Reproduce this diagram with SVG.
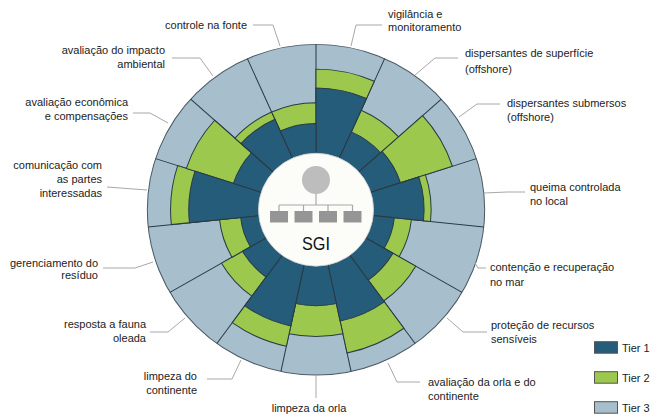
<svg xmlns="http://www.w3.org/2000/svg" width="657" height="414" viewBox="0 0 657 414">
<style>
.t1{fill:#245c7a}
.t2{fill:#9dc84e}
.t3{fill:#a7bfcd}
.w{stroke:#2b3a44;stroke-width:1}
.rad{stroke:#2b3a44;stroke-width:1}
.lbl{font-family:"Liberation Sans",Arial,sans-serif;font-size:11px;fill:#222}
.ld{fill:none;stroke:#a8a8a8;stroke-width:1}
.lg{stroke:#555;stroke-width:1}
</style>
<rect width="657" height="414" fill="#fff"/>
<g id="chart" transform="translate(316,209.7) scale(1.01,0.99)">
<circle r="167" class="t3" stroke="#4a5863" stroke-width="1"/>
<g class="rad">
<line x1="0" y1="0" x2="0" y2="-167"/>
<line x1="0" y1="0" x2="67.93" y2="-152.56"/>
<line x1="0" y1="0" x2="124.10" y2="-111.74"/>
<line x1="0" y1="0" x2="158.83" y2="-51.61"/>
<line x1="0" y1="0" x2="166.08" y2="17.46"/>
<line x1="0" y1="0" x2="144.63" y2="83.5"/>
<line x1="0" y1="0" x2="98.16" y2="135.11"/>
<line x1="0" y1="0" x2="34.72" y2="163.35"/>
<line x1="0" y1="0" x2="-34.72" y2="163.35"/>
<line x1="0" y1="0" x2="-98.16" y2="135.11"/>
<line x1="0" y1="0" x2="-144.63" y2="83.5"/>
<line x1="0" y1="0" x2="-166.08" y2="17.46"/>
<line x1="0" y1="0" x2="-158.83" y2="-51.61"/>
<line x1="0" y1="0" x2="-124.10" y2="-111.74"/>
<line x1="0" y1="0" x2="-67.93" y2="-152.56"/>
</g>
<g id="tier2" class="t2 w">
<path d="M0 0L0 -142A142 142 0 0 1 57.76 -129.72Z"/>
<path d="M0 0L44.74 -100.49A110 110 0 0 1 81.75 -73.60Z"/>
<path d="M0 0L105.53 -95.02A142 142 0 0 1 135.05 -43.88Z"/>
<path d="M0 0L108.42 -35.23A114 114 0 0 1 113.38 11.92Z"/>
<path d="M0 0L94.48 9.93A95 95 0 0 1 82.27 47.5Z"/>
<path d="M0 0L98.73 57A114 114 0 0 1 67.01 92.23Z"/>
<path d="M0 0L86.99 119.73A148 148 0 0 1 30.77 144.77Z"/>
<path d="M0 0L26.61 125.20A128 128 0 0 1 -26.61 125.20Z"/>
<path d="M0 0L-29.32 137.92A141 141 0 0 1 -82.88 114.07Z"/>
<path d="M0 0L-63.48 87.37A108 108 0 0 1 -93.53 54Z"/>
<path d="M0 0L-83.14 48A96 96 0 0 1 -95.47 10.03Z"/>
<path d="M0 0L-143.21 15.05A144 144 0 0 1 -136.95 -44.50Z"/>
<path d="M0 0L-128.39 -41.72A135 135 0 0 1 -100.32 -90.33Z"/>
<path d="M0 0L-80.26 -72.27A108 108 0 0 1 -43.93 -98.66Z"/>
<path d="M0 0L-43.93 -98.66A108 108 0 0 1 0 -108Z"/>
</g>
<g id="tier1" class="t1 w">
<path d="M0 0L0 -123A123 123 0 0 1 50.03 -112.37Z"/>
<path d="M0 0L34.98 -78.57A86 86 0 0 1 63.91 -57.55Z"/>
<path d="M0 0L65.40 -58.88A88 88 0 0 1 83.69 -27.19Z"/>
<path d="M0 0L101.76 -33.07A107 107 0 0 1 106.41 11.18Z"/>
<path d="M0 0L77.57 8.15A78 78 0 0 1 67.55 39Z"/>
<path d="M0 0L76.21 44A88 88 0 0 1 51.73 71.19Z"/>
<path d="M0 0L67.60 93.04A115 115 0 0 1 23.91 112.49Z"/>
<path d="M0 0L20.17 94.88A97 97 0 0 1 -20.17 94.88Z"/>
<path d="M0 0L-24.95 117.38A120 120 0 0 1 -70.53 97.08Z"/>
<path d="M0 0L-49.37 67.96A84 84 0 0 1 -72.75 42Z"/>
<path d="M0 0L-64.95 37.5A75 75 0 0 1 -74.59 7.84Z"/>
<path d="M0 0L-125.31 13.17A126 126 0 0 1 -119.83 -38.94Z"/>
<path d="M0 0L-81.79 -26.58A86 86 0 0 1 -63.91 -57.55Z"/>
<path d="M0 0L-74.31 -66.91A100 100 0 0 1 -40.67 -91.36Z"/>
<path d="M0 0L-35.39 -79.48A87 87 0 0 1 0 -87Z"/>
</g>
<circle r="57" fill="#fcfcf8" stroke="#d0d0d0" stroke-width="0.8"/>
</g>
<g id="sgi">
<circle cx="316" cy="180" r="14" fill="#bdbdbd"/>
<g fill="none" stroke="#a8a8a8" stroke-width="1.2">
<line x1="316" y1="194" x2="316" y2="205"/>
<line x1="279" y1="205" x2="352.5" y2="205"/>
<line x1="279" y1="205" x2="279" y2="211"/>
<line x1="303.5" y1="205" x2="303.5" y2="211"/>
<line x1="328" y1="205" x2="328" y2="211"/>
<line x1="352.5" y1="205" x2="352.5" y2="211"/>
</g>
<g fill="#959595">
<rect x="270" y="211" width="18" height="11.5"/>
<rect x="294.5" y="211" width="18" height="11.5"/>
<rect x="319" y="211" width="18" height="11.5"/>
<rect x="343.5" y="211" width="18" height="11.5"/>
</g>
<text x="316" y="249.5" text-anchor="middle" font-family="'Liberation Sans',Arial,sans-serif" font-size="19" fill="#111" textLength="28" lengthAdjust="spacingAndGlyphs">SGI</text>
</g>
<g id="connectors" class="ld">
<polyline points="253,25 273,25 280,46"/>
<polyline points="382,25 356,25 351,46"/>
<polyline points="458,58 435,58 415,75"/>
<polyline points="500,104 477,104 459,117"/>
<polyline points="525,192 507,192 484,193"/>
<polyline points="486,268 478,268 475,263"/>
<polyline points="487,332 463,332 447,318"/>
<polyline points="420,382 397,382 388,363"/>
<polyline points="316,375 316,398"/>
<polyline points="207,379 232,379 241,360"/>
<polyline points="150,332 168,332 185,318"/>
<polyline points="103,268 135,268 153,262"/>
<polyline points="107,187 147,190"/>
<polyline points="133,113 150,113 168,123"/>
<polyline points="172,58 200,58 213,76"/>
</g>
<g id="labels" class="lbl">
<text x="247" y="28.5" text-anchor="end">controle na fonte</text>
<text x="388" y="17.5">vigilância e<tspan x="388" y="31">monitoramento</tspan></text>
<text x="465" y="57">dispersantes de superfície<tspan x="465" y="72.5">(offshore)</tspan></text>
<text x="507" y="107">dispersantes submersos<tspan x="507" y="121">(offshore)</tspan></text>
<text x="530" y="191">queima controlada<tspan x="530" y="205">no local</tspan></text>
<text x="490" y="271">contenção e recuperação<tspan x="490" y="286">no mar</tspan></text>
<text x="491" y="329">proteção de recursos<tspan x="491" y="343">sensíveis</tspan></text>
<text x="428" y="385.5">avaliação da orla e do<tspan x="428" y="400">continente</tspan></text>
<text x="309" y="412" text-anchor="middle">limpeza da orla</text>
<text x="197" y="380" text-anchor="end">limpeza do<tspan x="197" y="393.5">continente</tspan></text>
<text x="146" y="328" text-anchor="end">resposta a fauna<tspan x="146" y="342">oleada</tspan></text>
<text x="98" y="266.5" text-anchor="end">gerenciamento do<tspan x="98" y="279">resíduo</tspan></text>
<text x="102" y="169" text-anchor="end">comunicação com<tspan x="102" y="183">as partes</tspan><tspan x="102" y="196.5">interessadas</tspan></text>
<text x="128" y="105.5" text-anchor="end">avaliação econômica<tspan x="128" y="120">e compensações</tspan></text>
<text x="165" y="54" text-anchor="end">avaliação do impacto<tspan x="165" y="67.5">ambiental</tspan></text>
</g>
<g id="legend">
<rect x="594.5" y="341.7" width="23" height="11.5" class="t1 lg"/>
<rect x="594.5" y="371.7" width="23" height="11.5" class="t2 lg"/>
<rect x="594.5" y="401.7" width="23" height="11.5" class="t3 lg"/>
<text class="lbl" x="622" y="351.5">Tier 1</text>
<text class="lbl" x="622" y="381.5">Tier 2</text>
<text class="lbl" x="622" y="411.5">Tier 3</text>
</g>
</svg>
